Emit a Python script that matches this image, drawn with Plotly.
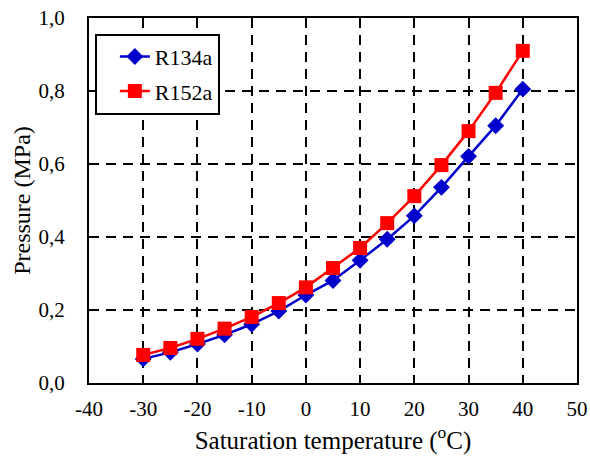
import plotly.graph_objects as go

temps = [-30, -25, -20, -15, -10, -5, 0, 5, 10, 15, 20, 25, 30, 35, 40]
r134a = [0.066, 0.084, 0.107, 0.132, 0.161, 0.197, 0.241, 0.281, 0.336, 0.394, 0.458, 0.536, 0.621, 0.705, 0.805]
r152a = [0.077, 0.096, 0.121, 0.149, 0.181, 0.219, 0.262, 0.315, 0.370, 0.438, 0.512, 0.597, 0.690, 0.795, 0.910]

x_ticks = [-40, -30, -20, -10, 0, 10, 20, 30, 40, 50]
x_labels = ["-40", "-30", "-20", "-10", "0", "10", "20", "30", "40", "50"]
y_ticks = [0.0, 0.2, 0.4, 0.6, 0.8, 1.0]

font = "'Times New Roman', 'Liberation Serif', serif"

fig = go.Figure()
fig.add_trace(go.Scatter(x=temps, y=r134a, name="R134a", mode="lines+markers",
                         line=dict(color="#0000CC", width=2.5),
                         marker=dict(symbol="diamond", size=13, color="#0000CC"),
                         legendgroup="a"))
fig.add_trace(go.Scatter(x=temps, y=r152a, name="R152a", mode="lines+markers",
                         line=dict(color="#FF0000", width=2.5),
                         marker=dict(symbol="square", size=14, color="#FF0000"),
                         legendgroup="b"))

grid = dict(showgrid=True, gridcolor="black", gridwidth=2, griddash="10px,7px")
fig.update_layout(
    width=590, height=459, autosize=False,
    margin=dict(l=89, r=13, t=18, b=76, autoexpand=False),
    plot_bgcolor="white", paper_bgcolor="white",
    separators=",.",
    font=dict(family=font, size=21, color="black"),
    legend=dict(x=0.012, y=0.957, xanchor="left", yanchor="top",
                bordercolor="black", borderwidth=2, bgcolor="white",
                font=dict(family=font, size=22), tracegroupgap=3,
                indentation=18, entrywidth=91, entrywidthmode="pixels"),
    xaxis=dict(range=[-40, 50], tickvals=x_ticks, ticktext=x_labels, showline=True,
               linecolor="black", linewidth=2, mirror=True, zeroline=False, ticks="",
               automargin=False,
               ticklabelstandoff=6, tickfont=dict(family=font, size=21),
               title=dict(text="Saturation temperature (<sup>o</sup>C)", standoff=11,
                          font=dict(family=font, size=25)), **grid),
    yaxis=dict(range=[0, 1.0], tickvals=y_ticks, tickformat=".1f", showline=True,
               linecolor="black", linewidth=2, mirror=True, zeroline=False, ticks="",
               automargin=False,
               ticklabelstandoff=18, tickfont=dict(family=font, size=21),
               title=dict(text="Pressure (MPa)", standoff=1,
                          font=dict(family=font, size=24)), **grid),
)
fig.write_html("out.html", config={"displayModeBar": False},
               post_script="document.body.style.margin='0';document.body.style.overflow='hidden';")
